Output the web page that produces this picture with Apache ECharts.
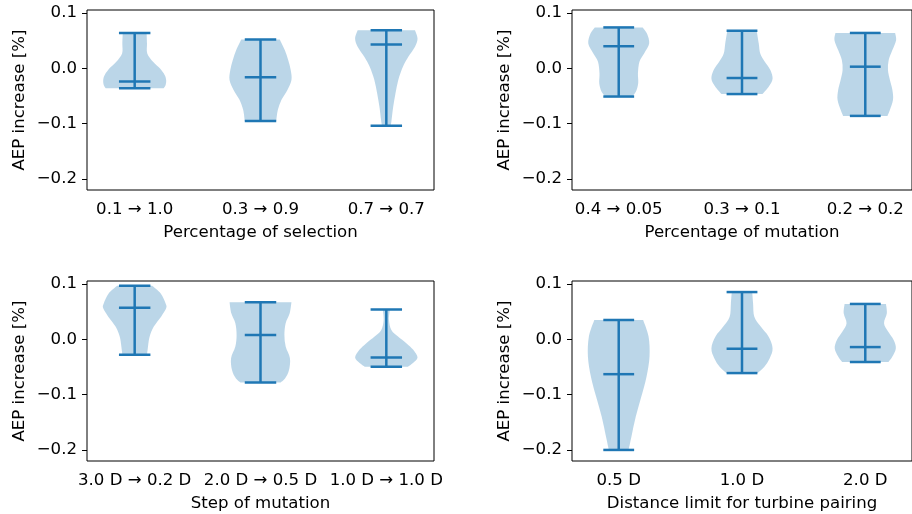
<!DOCTYPE html>
<html>
<head>
<meta charset="utf-8">
<script src="https://cdn.jsdelivr.net/npm/echarts@6/dist/echarts.min.js"></script>
<style>
  html, body { margin: 0; padding: 0; background: #fff; }
  #chart { width: 912px; height: 514px; }
</style>
</head>
<body>
<div id="chart"></div>
<script>
// Shared y ticks (AEP increase in %)
const yTicks = [-0.2, -0.1, 0.0, 0.1];
const violinPositions = [1, 2, 3];

// Percentage of selection
const selectionCats = ['0.1 \u2192 1.0', '0.3 \u2192 0.9', '0.7 \u2192 0.7'];
const selectionMax = [0.064, 0.052, 0.069];
const selectionMedian = [-0.024, -0.016, 0.043];
const selectionMin = [-0.036, -0.095, -0.104];
// density outline per violin: [value, half width]
const selectionShape = [
  [[0.064,0.095],[0.045,0.098],[0.027,0.100],[0.012,0.146],[0.0,0.200],[-0.012,0.238],[-0.021,0.250],[-0.030,0.246],[-0.036,0.230]],
  [[0.052,0.153],[0.033,0.193],[0.015,0.220],[-0.003,0.240],[-0.021,0.246],[-0.039,0.214],[-0.057,0.167],[-0.075,0.138],[-0.095,0.125]],
  [[0.069,0.228],[0.054,0.248],[0.039,0.228],[0.021,0.175],[0.003,0.132],[-0.021,0.095],[-0.045,0.073],[-0.069,0.055],[-0.093,0.042],[-0.104,0.035]]
];

// Percentage of mutation
const mutationCats = ['0.4 \u2192 0.05', '0.3 \u2192 0.1', '0.2 \u2192 0.2'];
const mutationMax = [0.074, 0.068, 0.064];
const mutationMedian = [0.040, -0.0175, 0.003];
const mutationMin = [-0.051, -0.0465, -0.086];
const mutationShape = [
  [[0.074,0.194],[0.063,0.229],[0.045,0.247],[0.027,0.206],[0.012,0.168],[-0.009,0.156],[-0.027,0.158],[-0.042,0.140],[-0.051,0.110]],
  [[0.068,0.119],[0.045,0.136],[0.027,0.148],[0.012,0.185],[-0.003,0.230],[-0.019,0.248],[-0.033,0.218],[-0.0465,0.166]],
  [[0.064,0.242],[0.051,0.250],[0.033,0.220],[0.015,0.190],[-0.003,0.184],[-0.021,0.200],[-0.039,0.220],[-0.057,0.225],[-0.075,0.200],[-0.086,0.180]]
];

// Step of mutation
const stepCats = ['3.0 D \u2192 0.2 D', '2.0 D \u2192 0.5 D', '1.0 D \u2192 1.0 D'];
const stepMax = [0.097, 0.067, 0.054];
const stepMedian = [0.057, 0.008, -0.033];
const stepMin = [-0.028, -0.078, -0.0495];
const stepShape = [
  [[0.097,0.139],[0.083,0.207],[0.065,0.246],[0.056,0.250],[0.041,0.210],[0.023,0.152],[0.005,0.119],[-0.013,0.106],[-0.028,0.098]],
  [[0.067,0.246],[0.047,0.232],[0.029,0.200],[0.008,0.190],[-0.013,0.200],[-0.034,0.234],[-0.056,0.226],[-0.071,0.195],[-0.078,0.160]],
  [[0.054,0.028],[0.035,0.021],[0.017,0.040],[0.005,0.093],[-0.007,0.159],[-0.019,0.214],[-0.033,0.248],[-0.043,0.212],[-0.0495,0.172]]
];

// Distance limit for turbine pairing
const pairingCats = ['0.5 D', '1.0 D', '2.0 D'];
const pairingMax = [0.035, 0.0855, 0.064];
const pairingMedian = [-0.063, -0.017, -0.014];
const pairingMin = [-0.200, -0.061, -0.041];
const pairingShape = [
  [[0.035,0.198],[0.005,0.242],[-0.031,0.250],[-0.068,0.225],[-0.104,0.183],[-0.140,0.138],[-0.176,0.103],[-0.200,0.080]],
  [[0.0855,0.083],[0.065,0.090],[0.041,0.100],[0.023,0.152],[0.005,0.215],[-0.016,0.248],[-0.034,0.225],[-0.050,0.180],[-0.061,0.127]],
  [[0.064,0.168],[0.047,0.175],[0.029,0.152],[0.014,0.185],[-0.001,0.230],[-0.016,0.248],[-0.031,0.220],[-0.041,0.188]]
];

const panels = [
  { title: 'Percentage of selection', cats: selectionCats, max: selectionMax, med: selectionMedian, min: selectionMin, shape: selectionShape, grid: { left: 87, top: 10, width: 347, height: 180 } },
  { title: 'Percentage of mutation', cats: mutationCats, max: mutationMax, med: mutationMedian, min: mutationMin, shape: mutationShape, grid: { left: 572, top: 10, width: 347, height: 180 } },
  { title: 'Step of mutation', cats: stepCats, max: stepMax, med: stepMedian, min: stepMin, shape: stepShape, grid: { left: 87, top: 281, width: 347, height: 180 } },
  { title: 'Distance limit for turbine pairing', cats: pairingCats, max: pairingMax, med: pairingMedian, min: pairingMin, shape: pairingShape, grid: { left: 572, top: 281, width: 347, height: 180 } }
];

const BLUE = '#1f77b4';
const FILL = 'rgba(31,119,180,0.3)';
const FONT = 'DejaVu Sans';
const FS = 16.6;
const CAP = 0.125;

function fmtY(v) {
  const s = Math.abs(v).toFixed(1);
  return (v < -1e-9 ? '\u2212' : '') + s;
}

// Smooth (Catmull-Rom as cubic Bezier) path through pixel points, appended to a path string
function smoothSide(pts) {
  let d = '';
  for (let i = 0; i < pts.length - 1; i++) {
    const p0 = pts[Math.max(i - 1, 0)], p1 = pts[i], p2 = pts[i + 1], p3 = pts[Math.min(i + 2, pts.length - 1)];
    const c1 = [p1[0] + (p2[0] - p0[0]) / 6, p1[1] + (p2[1] - p0[1]) / 6];
    const c2 = [p2[0] - (p3[0] - p1[0]) / 6, p2[1] - (p3[1] - p1[1]) / 6];
    d += ' C' + c1[0].toFixed(2) + ' ' + c1[1].toFixed(2) + ' ' + c2[0].toFixed(2) + ' ' + c2[1].toFixed(2) + ' ' + p2[0].toFixed(2) + ' ' + p2[1].toFixed(2);
  }
  return d;
}

const grids = [], xAxes = [], yAxes = [], series = [];

panels.forEach((p, i) => {
  grids.push(Object.assign({ show: true, borderColor: '#000', borderWidth: 1, backgroundColor: 'transparent' }, p.grid));
  xAxes.push({
    gridIndex: i, type: 'value', min: 0.621, max: 3.379,
    name: p.title, nameLocation: 'middle', nameGap: 34,
    nameTextStyle: { fontFamily: FONT, fontSize: FS, color: '#000' },
    axisLine: { show: false },
    splitLine: { show: false },
    axisTick: { show: true, customValues: violinPositions, length: 5, lineStyle: { color: '#000', width: 1 } },
    axisLabel: { customValues: violinPositions, margin: 11, fontFamily: FONT, fontSize: FS, color: '#000',
      formatter: v => p.cats[Math.round(v) - 1] }
  });
  yAxes.push({
    gridIndex: i, type: 'value', min: -0.22, max: 0.1055,
    name: 'AEP increase [%]', nameLocation: 'middle', nameGap: 59,
    nameTextStyle: { fontFamily: FONT, fontSize: FS, color: '#000' },
    axisLine: { show: false },
    splitLine: { show: false },
    axisTick: { show: true, customValues: yTicks, length: 5, lineStyle: { color: '#000', width: 1 } },
    axisLabel: { customValues: yTicks, margin: 10, fontFamily: FONT, fontSize: FS, color: '#000', formatter: fmtY }
  });
  const data = violinPositions.map((pos, k) => [pos, p.max[k], p.med[k], p.min[k], k]);
  series.push({
    type: 'custom', xAxisIndex: i, yAxisIndex: i, silent: true,
    data: data,
    renderItem: (params, api) => {
      const pos = api.value(0), vmax = api.value(1), vmed = api.value(2), vmin = api.value(3);
      const prof = p.shape[api.value(4)];
      const left = prof.map(([v, hw]) => api.coord([pos - hw, v]));
      const right = prof.slice().reverse().map(([v, hw]) => api.coord([pos + hw, v]));
      const d = 'M' + left[0][0].toFixed(2) + ' ' + left[0][1].toFixed(2) + smoothSide(left) +
        ' L' + right[0][0].toFixed(2) + ' ' + right[0][1].toFixed(2) + smoothSide(right) + ' Z';
      const body = {
        type: 'path',
        shape: { pathData: d },
        style: { fill: FILL, stroke: null }
      };
      const ln = (a, b) => ({
        type: 'line',
        shape: { x1: a[0], y1: a[1], x2: b[0], y2: b[1] },
        style: { stroke: BLUE, lineWidth: 2.5 }
      });
      return {
        type: 'group',
        children: [
          body,
          ln(api.coord([pos, vmin]), api.coord([pos, vmax])),
          ln(api.coord([pos - CAP, vmax]), api.coord([pos + CAP, vmax])),
          ln(api.coord([pos - CAP, vmin]), api.coord([pos + CAP, vmin])),
          ln(api.coord([pos - CAP, vmed]), api.coord([pos + CAP, vmed]))
        ]
      };
    }
  });
});

const chart = echarts.init(document.getElementById('chart'), null, { renderer: 'canvas' });
chart.setOption({
  animation: false,
  backgroundColor: '#fff',
  textStyle: { fontFamily: FONT },
  grid: grids, xAxis: xAxes, yAxis: yAxes, series: series
});
</script>
</body>
</html>
